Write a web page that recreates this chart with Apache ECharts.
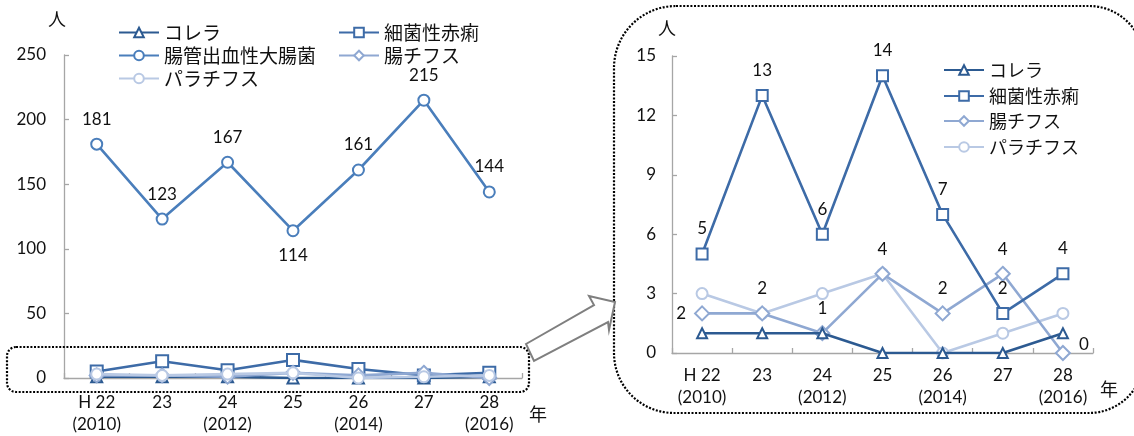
<!DOCTYPE html>
<html>
<head>
<meta charset="utf-8">
<script src="https://cdn.jsdelivr.net/npm/echarts@6/dist/echarts.min.js"></script>
<style>
html,body{margin:0;padding:0;background:#fff;}
#c{width:1134px;height:436px;}
</style>
</head>
<body>
<div id="c"></div>
<script>
// ---- data ----
const categories = ['H 22\n(2010)', '23', '24\n(2012)', '25', '26\n(2014)', '27', '28\n(2016)'];
const cholera = [1, 1, 1, 0, 0, 0, 1];
const shigellosis = [5, 13, 6, 14, 7, 2, 4];
const ehec = [181, 123, 167, 114, 161, 215, 144];
const typhoid = [2, 2, 1, 4, 2, 4, 0];
const paratyphoid = [3, 2, 3, 4, 0, 1, 2];
const leftYTicks = { min: 0, max: 250, interval: 50 };
const rightYTicks = { min: 0, max: 15, interval: 3 };

// ---- styles ----
const FONT = 'Lato, "Noto Sans CJK JP", sans-serif';
const JFONT = '"Noto Sans CJK JP", sans-serif';
const TXT = '#111';
const C = {
  cholera: '#2C5A91',
  shig: '#3D6BA7',
  ehec: '#4A7EBB',
  typh: '#8FA8D2',
  para: '#B9C9E4'
};
const ehecLabelPos = ['top', 'top', 'top', 'bottom', 'top', 'top', 'top'];
const typhLabelPos = ['left', 'top', 'top', 'top', 'top', 'top', 'right'];

function withLabels(vals, pos) {
  return vals.map((v, i) => {
    const lab = { position: pos[i] };
    if (pos[i] === 'right') lab.offset = [0, -8];
    return { value: v, label: lab };
  });
}
function line(name, data, color, symbol, size, axis, label, z) {
  return {
    name: name, type: 'line', data: data,
    xAxisIndex: axis, yAxisIndex: axis,
    symbol: symbol, symbolSize: size, showAllSymbol: true,
    z: z,
    lineStyle: { color: color, width: 2.6 },
    itemStyle: { color: color, borderColor: color, borderWidth: 2.4 },
    label: label ? Object.assign({ show: true, fontFamily: FONT, fontSize: 17, color: TXT, distance: 9 }, label) : { show: false },
    emphasis: { disabled: true },
    animation: false
  };
}
function legend(name, left, top, fs) {
  return {
    data: [name], left: left, top: top, padding: 0,
    itemWidth: 40, itemHeight: 12, itemGap: 4,
    textStyle: { fontFamily: JFONT, fontSize: fs, color: TXT },
    selectedMode: false
  };
}

const axisLineStyle = { color: '#A6A6A6', width: 1.3 };
function xAxis(gi, margin) {
  return {
    type: 'category', gridIndex: gi, data: categories, boundaryGap: true,
    axisLine: { lineStyle: axisLineStyle },
    axisTick: { show: true, inside: true, length: 5, lineStyle: axisLineStyle },
    axisLabel: { interval: 0, margin: margin, fontFamily: FONT, fontSize: 17, color: TXT, lineHeight: 22 },
    splitLine: { show: false }
  };
}
function yAxis(gi, t, margin) {
  return {
    type: 'value', gridIndex: gi, min: t.min, max: t.max, interval: t.interval,
    axisLine: { show: true, lineStyle: axisLineStyle },
    axisTick: { show: true, inside: true, length: 5, lineStyle: axisLineStyle },
    axisLabel: { margin: margin, fontFamily: FONT, fontSize: 17, color: TXT },
    splitLine: { show: false }
  };
}

const dotted = { fill: 'none', stroke: '#000', lineWidth: 2.2, lineDash: [2, 1.6] };

const option = {
  backgroundColor: '#fff',
  animation: false,
  grid: [
    { left: 64, right: 612, top: 55, bottom: 56 },
    { left: 672, right: 41, top: 56, bottom: 83 }
  ],
  xAxis: [xAxis(0, 14), xAxis(1, 12)],
  yAxis: [yAxis(0, leftYTicks, 18), yAxis(1, rightYTicks, 16)],
  legend: [
    legend('コレラ', 118, 23, 19),
    legend('細菌性赤痢', 338, 23, 19),
    legend('腸管出血性大腸菌', 118, 46, 19),
    legend('腸チフス', 338, 46, 19),
    legend('パラチフス', 118, 69, 19),
    legend('コレラ', 943, 61, 18),
    legend('細菌性赤痢', 943, 87, 18),
    legend('腸チフス', 943, 112, 18),
    legend('パラチフス', 943, 138, 18)
  ],
  series: [
    line('コレラ', cholera, C.cholera, 'emptyTriangle', 11, 0, null, 2),
    line('細菌性赤痢', shigellosis, C.shig, 'emptyRect', 12, 0, null, 3),
    line('腸管出血性大腸菌', withLabels(ehec, ehecLabelPos), C.ehec, 'emptyCircle', 11, 0, { distance: 10 }, 4),
    line('腸チフス', typhoid, C.typh, 'emptyDiamond', 14, 0, null, 5),
    line('パラチフス', paratyphoid, C.para, 'emptyCircle', 11, 0, null, 6),

    line('コレラ', cholera, C.cholera, 'emptyTriangle', 10, 1, null, 6),
    line('細菌性赤痢', shigellosis, C.shig, 'emptyRect', 11, 1, { position: 'top', distance: 10 }, 5),
    line('腸チフス', withLabels(typhoid, typhLabelPos), C.typh, 'emptyDiamond', 14, 1, { distance: 8 }, 4),
    line('パラチフス', paratyphoid, C.para, 'emptyCircle', 11, 1, null, 3)
  ],
  graphic: [
    { type: 'text', left: 48, top: 10, style: { text: '人', font: '18px ' + JFONT, fill: TXT } },
    { type: 'text', left: 529, top: 405, style: { text: '年', font: '18px ' + JFONT, fill: TXT } },
    { type: 'text', left: 658, top: 19, style: { text: '人', font: '18px ' + JFONT, fill: TXT } },
    { type: 'text', left: 1100, top: 380, style: { text: '年', font: '18px ' + JFONT, fill: TXT } },
    { type: 'rect', z: 100, shape: { x: 7, y: 347, width: 522, height: 45, r: 9 }, style: dotted },
    { type: 'rect', z: 100, shape: { x: 614, y: 6, width: 530, height: 407, r: [62, 55, 55, 60] }, style: dotted },
    { type: 'polygon', z: 101,
      shape: { points: [[526, 344], [594, 305], [589, 296], [615, 302], [609, 330], [608, 322], [534, 361]] },
      style: { fill: '#fff', stroke: '#7F7F7F', lineWidth: 2 } }
  ]
};

const chart = echarts.init(document.getElementById('c'), null, { renderer: 'canvas' });
chart.setOption(option);
</script>
</body>
</html>
